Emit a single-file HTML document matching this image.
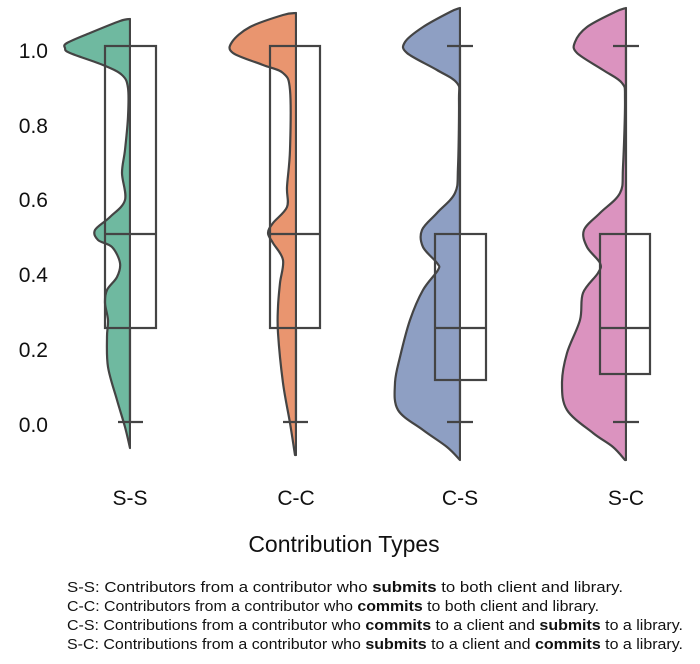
<!DOCTYPE html>
<html><head><meta charset="utf-8"><style>
html,body{margin:0;padding:0;background:#fff;}
svg{display:block;font-family:"Liberation Sans",Arial,sans-serif;}
</style></head><body>
<svg id="s" width="700" height="664" viewBox="0 0 700 664">
<g font-size="21" fill="#111" text-anchor="end">
<text x="48" y="58">1.0</text>
<text x="48" y="133">0.8</text>
<text x="48" y="207">0.6</text>
<text x="48" y="282">0.4</text>
<text x="48" y="357">0.2</text>
<text x="48" y="432">0.0</text>
</g>
<g id="violins" stroke="#444" stroke-width="2.2" stroke-linejoin="round"></g>
<g fill="#fff" stroke="none">
<rect x="131" y="0" width="60" height="470"/>
<rect x="297" y="0" width="60" height="470"/>
<rect x="461" y="0" width="60" height="470"/>
<rect x="627" y="0" width="60" height="470"/>
</g>
<g fill="none" stroke="#444" stroke-width="2.2">
<rect x="105" y="46" width="51" height="282"/>
<line x1="105" y1="234" x2="156" y2="234"/>
<line x1="130" y1="328" x2="130" y2="422"/><line x1="118" y1="422" x2="143" y2="422"/>
<rect x="270" y="46" width="50" height="282"/>
<line x1="270" y1="234" x2="320" y2="234"/>
<line x1="296" y1="328" x2="296" y2="422"/><line x1="283" y1="422" x2="308" y2="422"/>
<rect x="435" y="234" width="51" height="146"/>
<line x1="435" y1="328" x2="486" y2="328"/>
<line x1="460" y1="46" x2="460" y2="234"/><line x1="447" y1="46" x2="473" y2="46"/>
<line x1="460" y1="380" x2="460" y2="422"/><line x1="447" y1="422" x2="473" y2="422"/>
<rect x="600" y="234" width="50" height="140"/>
<line x1="600" y1="328" x2="650" y2="328"/>
<line x1="626" y1="46" x2="626" y2="234"/><line x1="613" y1="46" x2="639" y2="46"/>
<line x1="626" y1="374" x2="626" y2="422"/><line x1="613" y1="422" x2="639" y2="422"/>
</g>
<g font-size="21" fill="#111" text-anchor="middle">
<text x="130" y="505">S-S</text>
<text x="296" y="505">C-C</text>
<text x="460" y="505">C-S</text>
<text x="626" y="505">S-C</text>
<text x="344" y="552" font-size="23">Contribution Types</text>
</g>
<g font-size="15" fill="#111">
<text x="67" y="592" textLength="556" lengthAdjust="spacingAndGlyphs">S-S: Contributors from a contributor who <tspan font-weight="bold">submits</tspan> to both client and library.</text>
<text x="67" y="611" textLength="532" lengthAdjust="spacingAndGlyphs">C-C: Contributors from a contributor who <tspan font-weight="bold">commits</tspan> to both client and library.</text>
<text x="67" y="630" textLength="616" lengthAdjust="spacingAndGlyphs">C-S: Contributions from a contributor who <tspan font-weight="bold">commits</tspan> to a client and <tspan font-weight="bold">submits</tspan> to a library.</text>
<text x="67" y="649" textLength="616" lengthAdjust="spacingAndGlyphs">S-C: Contributions from a contributor who <tspan font-weight="bold">submits</tspan> to a client and <tspan font-weight="bold">commits</tspan> to a library.</text>
</g>
</svg>
<script>
var V=[
["#6fb9a0",130,[[130,19],[120,21],[90,33],[67,43],[65,48],[70,53],[103,65],[122,75],[128,88],[128,117],[125,150],[122,173],[125,200],[110,217],[95,230],[98,240],[112,247],[120,263],[117,277],[107,290],[105,303],[108,320],[107,337],[108,367],[117,400],[125,427],[130,448]]],
["#e9956f",296,[[296,13],[283,15],[250,27],[232,42],[233,53],[263,65],[283,73],[290,90],[290,150],[287,187],[287,207],[273,223],[268,233],[273,243],[283,260],[280,283],[278,307],[278,333],[283,383],[290,423],[295,455]]],
["#8e9fc3",460,[[460,8],[450,12],[423,27],[405,42],[407,53],[437,70],[457,83],[459,100],[458,167],[455,193],[437,213],[422,230],[423,247],[437,263],[438,270],[423,290],[410,320],[400,357],[395,383],[398,410],[423,430],[447,447],[460,460]]],
["#db93bf",626,[[626,8],[615,12],[587,27],[575,42],[577,53],[603,70],[622,83],[625,100],[623,167],[620,193],[600,213],[584,230],[587,247],[600,263],[598,273],[583,293],[580,320],[567,353],[562,383],[567,410],[593,433],[613,447],[625,460]]]
];
var g=document.getElementById("violins"),ns="http://www.w3.org/2000/svg";
V.forEach(function(v){
 var p=v[2],d="M"+v[1]+","+p[0][1]+" L"+p[0][0]+","+p[0][1];
 for(var i=0;i<p.length-1;i++){
  var p0=p[Math.max(i-1,0)],p1=p[i],p2=p[i+1],p3=p[Math.min(i+2,p.length-1)];
  var c1=[p1[0]+(p2[0]-p0[0])/6,p1[1]+(p2[1]-p0[1])/6],c2=[p2[0]-(p3[0]-p1[0])/6,p2[1]-(p3[1]-p1[1])/6];
  d+=" C"+c1+" "+c2+" "+p2;
 }
 d+=" L"+v[1]+","+p[p.length-1][1]+" Z";
 var e=document.createElementNS(ns,"path");e.setAttribute("d",d);e.setAttribute("fill",v[0]);g.appendChild(e);
});
</script>
</body></html>
